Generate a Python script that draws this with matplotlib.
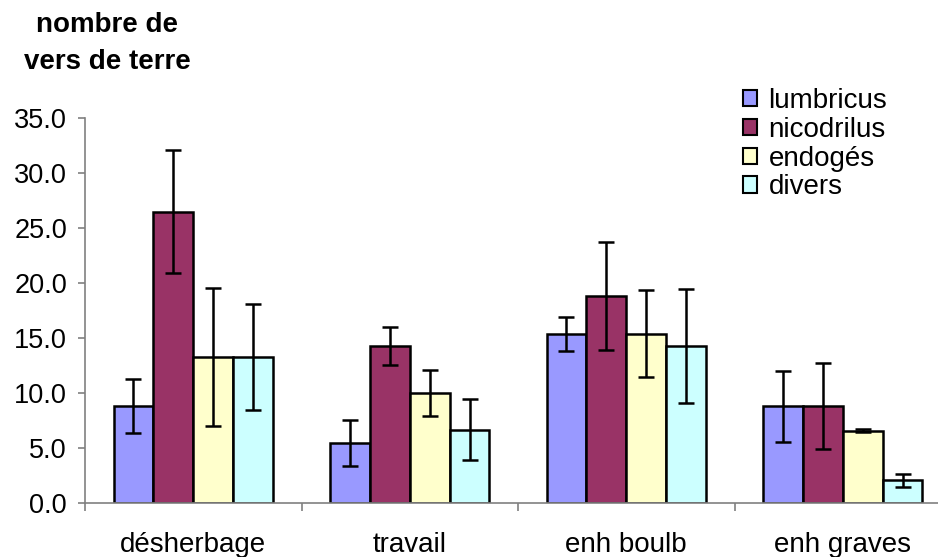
import matplotlib
matplotlib.use("Agg")
import matplotlib.pyplot as plt
import numpy as np
from matplotlib.ticker import FormatStrFormatter, FixedLocator, NullFormatter
from matplotlib.patches import Patch

categories = ["désherbage", "travail", "enh boulb", "enh graves"]
series = ["lumbricus", "nicodrilus", "endogés", "divers"]
lumbricus = [8.8, 5.5, 15.4, 8.8]
nicodrilus = [26.5, 14.3, 18.8, 8.8]
endoges = [13.3, 10.0, 15.4, 6.6]
divers = [13.3, 6.7, 14.3, 2.1]
err_lumbricus = [2.45, 2.1, 1.55, 3.2]
err_nicodrilus = [5.6, 1.7, 4.9, 3.9]
err_endoges = [6.3, 2.1, 3.95, 0.15]
err_divers = [4.8, 2.75, 5.2, 0.6]
colors = ["#9999FF", "#993366", "#FFFFCC", "#CCFFFF"]
yticks = [0, 5, 10, 15, 20, 25, 30, 35]

values = [lumbricus, nicodrilus, endoges, divers]
errors = [err_lumbricus, err_nicodrilus, err_endoges, err_divers]

plt.rcParams['font.family'] = ['Liberation Sans', 'DejaVu Sans']

W, H = 938, 557
fig = plt.figure(figsize=(W / 100, H / 100), dpi=100)
left_px, right_px = 85, 938
y0_px, y35_px = 503.3, 118.0
ax = fig.add_axes([left_px / W, 1 - y0_px / H, (right_px - left_px) / W, (y0_px - y35_px) / H])

spacing_px = 216.5
x = np.arange(len(categories))
bw = 0.184
for i, (vals, errs) in enumerate(zip(values, errors)):
    ax.bar(x + (i - 1.5) * bw, vals, width=bw, color=colors[i], edgecolor="black",
           linewidth=1.8, yerr=errs, capsize=6,
           error_kw=dict(elinewidth=1.8, capthick=1.8, ecolor="black"), zorder=2)

ax.set_xlim(-0.5, -0.5 + (right_px - left_px) / spacing_px)
ax.set_ylim(0, 35)
ax.set_yticks(yticks)
ax.yaxis.set_major_formatter(FormatStrFormatter("%.1f"))
ax.xaxis.set_major_locator(FixedLocator([-0.5, 0.5, 1.5, 2.5, 3.5]))
ax.xaxis.set_major_formatter(NullFormatter())
ax.xaxis.set_minor_locator(FixedLocator(list(x)))
ax.set_xticklabels(categories, minor=True)

for s in ["top", "right"]:
    ax.spines[s].set_visible(False)
for s in ["left", "bottom"]:
    ax.spines[s].set_color("#808080")
    ax.spines[s].set_linewidth(1.2)

ax.tick_params(axis="y", which="major", direction="out", length=5, width=1.2,
               color="#808080", labelsize=19.5, pad=8)
ax.tick_params(axis="x", which="major", direction="out", length=6, width=1.2, color="#808080")
ax.tick_params(axis="x", which="minor", length=0, labelsize=20, pad=21)

fig.text(107 / W, 1 - 25 / H, "nombre de", ha="center", va="center",
         fontsize=20, fontweight="bold")
fig.text(107 / W, 1 - 62 / H, "vers de terre", ha="center", va="center",
         fontsize=20, fontweight="bold")

handles = [Patch(facecolor=c, edgecolor="black", linewidth=1.5) for c in colors]
fig.legend(handles, series, loc="upper left",
           bbox_to_anchor=(743 / W, 1 - 88 / H), bbox_transform=fig.transFigure,
           frameon=False, fontsize=20, borderpad=0, borderaxespad=0,
           handlelength=0.52, handleheight=0.52, handletextpad=0.4,
           labelspacing=0.1)

fig.savefig("out.png", dpi=100)
